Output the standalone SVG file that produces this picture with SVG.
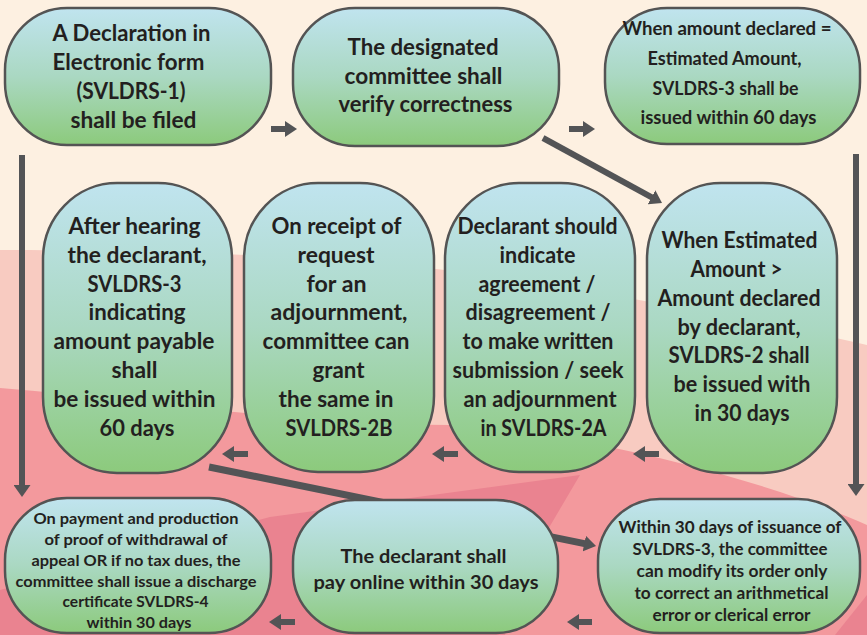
<svg xmlns="http://www.w3.org/2000/svg" width="867" height="635" viewBox="0 0 867 635">
<defs>
<linearGradient id="ng" x1="0" y1="0" x2="0" y2="1">
<stop offset="0" stop-color="#C0E4EF"/>
<stop offset="0.5" stop-color="#AAD8C2"/>
<stop offset="1" stop-color="#8CCA7C"/>
</linearGradient>
<marker id="ah" markerUnits="userSpaceOnUse" markerWidth="12" markerHeight="16" refX="4" refY="8" orient="auto" viewBox="0 0 12 16">
<path d="M0,0 L12,8 L0,16 z" fill="#535456"/>
</marker>
<marker id="ahv" markerUnits="userSpaceOnUse" markerWidth="12" markerHeight="17" refX="4" refY="8.5" orient="auto" viewBox="0 0 12 17">
<path d="M0,0 L12,8.5 L0,17 z" fill="#535456"/>
</marker>
</defs>
<style>
.node{fill:url(#ng);stroke:#545454;stroke-width:2.5}
.t{font-family:Lato,"Liberation Sans",sans-serif;font-weight:bold;fill:#231F20;text-anchor:middle}
.f24{font-size:22px}
.f21{font-size:19.4px}
.f20{font-size:18.4px}
.f18{font-size:17px}
.f17{font-size:16px}
.c{stroke:#535456;stroke-width:6;fill:none;marker-end:url(#ah)}
</style>
<g id="background">
<rect x="0" y="0" width="867" height="635" fill="#FDF0E1"/>
<path d="M0,250 C150,250 350,255 480,275 C600,292 760,320 867,345 L867,635 L0,635 Z" fill="#F8CBC1"/>
<path d="M0,388 C150,400 300,425 450,425 C520,428 560,440 600,445 C700,465 800,495 867,525 L867,635 L0,635 Z" fill="#F3999D"/>
<path d="M0,590 L270,517 L580,475 L530,560 L505,635 L0,635 Z" fill="#EA8390"/>
<path d="M835,635 L867,595 L867,635 Z" fill="#EA8390"/>
</g>
<g id="connectors">
<line class="c" x1="271" y1="129" x2="289" y2="129"/>
<line class="c" x1="569" y1="129" x2="587" y2="129"/>
<line class="c" x1="543" y1="138" x2="655" y2="199.2"/>
<line class="c" x1="22" y1="155" x2="22" y2="489" style="marker-end:url(#ahv)"/>
<line class="c" x1="856" y1="154" x2="856" y2="488" style="marker-end:url(#ahv)"/>
<line class="c" x1="659" y1="454" x2="641" y2="454"/>
<line class="c" x1="458" y1="454" x2="440" y2="454"/>
<line class="c" x1="248" y1="454" x2="230" y2="454"/>
<line class="c" x1="209" y1="467" x2="588.2" y2="544.4" style="stroke-width:7"/>
<line class="c" x1="592" y1="622" x2="575" y2="622"/>
<line class="c" x1="295" y1="622" x2="277" y2="622"/>
</g>
<g id="n1">
<rect class="node" x="5" y="8" width="266" height="137" rx="62" ry="62"/>
<text class="t f24" x="131.5" y="41" textLength="158" lengthAdjust="spacingAndGlyphs">A Declaration in</text>
<text class="t f24" x="128.5" y="70" textLength="152" lengthAdjust="spacingAndGlyphs">Electronic form</text>
<text class="t f24" x="131" y="99" textLength="109" lengthAdjust="spacingAndGlyphs">(SVLDRS-1)</text>
<text class="t f24" x="133.5" y="128" textLength="126" lengthAdjust="spacingAndGlyphs">shall be filed</text>
</g>
<g id="n2">
<rect class="node" x="293" y="8" width="266" height="138" rx="62" ry="62"/>
<text class="t f24" x="423" y="55" textLength="151" lengthAdjust="spacingAndGlyphs">The designated</text>
<text class="t f24" x="423.5" y="84" textLength="158" lengthAdjust="spacingAndGlyphs">committee shall</text>
<text class="t f24" x="425.5" y="112" textLength="174" lengthAdjust="spacingAndGlyphs">verify correctness</text>
</g>
<g id="n3">
<rect class="node" x="605" y="8" width="255" height="136" rx="62" ry="62"/>
<text class="t f20" x="727" y="35" textLength="209" lengthAdjust="spacingAndGlyphs">When amount declared =</text>
<text class="t f20" x="724.5" y="65" textLength="154" lengthAdjust="spacingAndGlyphs">Estimated Amount,</text>
<text class="t f20" x="725.5" y="95" textLength="146" lengthAdjust="spacingAndGlyphs">SVLDRS-3 shall be</text>
<text class="t f20" x="728.5" y="124" textLength="176" lengthAdjust="spacingAndGlyphs">issued within 60 days</text>
</g>
<g id="n4">
<rect class="node" x="647" y="183" width="190" height="290" rx="74" ry="76"/>
<text class="t f24" x="739.5" y="248" textLength="156" lengthAdjust="spacingAndGlyphs">When Estimated</text>
<text class="t f24" x="736.5" y="277" textLength="92" lengthAdjust="spacingAndGlyphs">Amount &gt;</text>
<text class="t f24" x="739" y="305.5" textLength="163" lengthAdjust="spacingAndGlyphs">Amount declared</text>
<text class="t f24" x="739" y="334.5" textLength="123" lengthAdjust="spacingAndGlyphs">by declarant,</text>
<text class="t f24" x="739" y="363" textLength="141" lengthAdjust="spacingAndGlyphs">SVLDRS-2 shall</text>
<text class="t f24" x="742" y="392" textLength="137" lengthAdjust="spacingAndGlyphs">be issued with</text>
<text class="t f24" x="742" y="420.5" textLength="95" lengthAdjust="spacingAndGlyphs">in 30 days</text>
</g>
<g id="n5">
<rect class="node" x="445" y="183" width="190" height="289" rx="74" ry="76"/>
<text class="t f24" x="537.5" y="234" textLength="160" lengthAdjust="spacingAndGlyphs">Declarant should</text>
<text class="t f24" x="537.5" y="263" textLength="76" lengthAdjust="spacingAndGlyphs">indicate</text>
<text class="t f24" x="537" y="291.5" textLength="117" lengthAdjust="spacingAndGlyphs">agreement /</text>
<text class="t f24" x="538" y="320" textLength="145" lengthAdjust="spacingAndGlyphs">disagreement /</text>
<text class="t f24" x="538" y="349" textLength="151" lengthAdjust="spacingAndGlyphs">to make written</text>
<text class="t f24" x="538" y="378" textLength="171" lengthAdjust="spacingAndGlyphs">submission / seek</text>
<text class="t f24" x="540" y="406.5" textLength="153" lengthAdjust="spacingAndGlyphs">an adjournment</text>
<text class="t f24" x="543.5" y="435.5" textLength="126" lengthAdjust="spacingAndGlyphs">in SVLDRS-2A</text>
</g>
<g id="n6">
<rect class="node" x="244" y="183" width="190" height="289" rx="74" ry="76"/>
<text class="t f24" x="336.5" y="234" textLength="130" lengthAdjust="spacingAndGlyphs">On receipt of</text>
<text class="t f24" x="336" y="263" textLength="77" lengthAdjust="spacingAndGlyphs">request</text>
<text class="t f24" x="336.5" y="291.5" textLength="60" lengthAdjust="spacingAndGlyphs">for an</text>
<text class="t f24" x="339" y="320" textLength="137" lengthAdjust="spacingAndGlyphs">adjournment,</text>
<text class="t f24" x="336" y="349" textLength="147" lengthAdjust="spacingAndGlyphs">committee can</text>
<text class="t f24" x="338.5" y="378" textLength="52" lengthAdjust="spacingAndGlyphs">grant</text>
<text class="t f24" x="336" y="406.5" textLength="115" lengthAdjust="spacingAndGlyphs">the same in</text>
<text class="t f24" x="339" y="435.5" textLength="107" lengthAdjust="spacingAndGlyphs">SVLDRS-2B</text>
</g>
<g id="n7">
<rect class="node" x="43" y="183" width="189" height="290" rx="74" ry="76"/>
<text class="t f24" x="134.5" y="234" textLength="132" lengthAdjust="spacingAndGlyphs">After hearing</text>
<text class="t f24" x="137" y="263" textLength="139" lengthAdjust="spacingAndGlyphs">the declarant,</text>
<text class="t f24" x="134.5" y="291.5" textLength="94" lengthAdjust="spacingAndGlyphs">SVLDRS-3</text>
<text class="t f24" x="137" y="320" textLength="97" lengthAdjust="spacingAndGlyphs">indicating</text>
<text class="t f24" x="134" y="349" textLength="161" lengthAdjust="spacingAndGlyphs">amount payable</text>
<text class="t f24" x="134.5" y="378" textLength="46" lengthAdjust="spacingAndGlyphs">shall</text>
<text class="t f24" x="134.5" y="406.5" textLength="162" lengthAdjust="spacingAndGlyphs">be issued within</text>
<text class="t f24" x="137" y="435.5" textLength="75" lengthAdjust="spacingAndGlyphs">60 days</text>
</g>
<g id="n8">
<rect class="node" x="598" y="499" width="262" height="134" rx="62" ry="62"/>
<text class="t f18" x="730" y="533" textLength="223" lengthAdjust="spacingAndGlyphs">Within 30 days of issuance of</text>
<text class="t f18" x="730" y="555" textLength="195" lengthAdjust="spacingAndGlyphs">SVLDRS-3, the committee</text>
<text class="t f18" x="732" y="577" textLength="191" lengthAdjust="spacingAndGlyphs">can modify its order only</text>
<text class="t f18" x="731.5" y="599" textLength="194" lengthAdjust="spacingAndGlyphs">to correct an arithmetical</text>
<text class="t f18" x="731.5" y="621" textLength="158" lengthAdjust="spacingAndGlyphs">error or clerical error</text>
</g>
<g id="n9">
<rect class="node" x="293" y="500" width="265" height="133" rx="62" ry="62"/>
<text class="t f21" x="423.5" y="563" textLength="166" lengthAdjust="spacingAndGlyphs">The declarant shall</text>
<text class="t f21" x="426" y="589" textLength="225" lengthAdjust="spacingAndGlyphs">pay online within 30 days</text>
</g>
<g id="n10">
<rect class="node" x="5" y="498" width="266" height="135" rx="62" ry="62"/>
<text class="t f17" x="136" y="524" textLength="205" lengthAdjust="spacingAndGlyphs">On payment and production</text>
<text class="t f17" x="136" y="545" textLength="183" lengthAdjust="spacingAndGlyphs">of proof of withdrawal of</text>
<text class="t f17" x="136" y="566" textLength="209" lengthAdjust="spacingAndGlyphs">appeal OR if no tax dues, the</text>
<text class="t f17" x="136" y="586.5" textLength="241" lengthAdjust="spacingAndGlyphs">committee shall issue a discharge</text>
<text class="t f17" x="135.5" y="607" textLength="146" lengthAdjust="spacingAndGlyphs">certificate SVLDRS-4</text>
<text class="t f17" x="139" y="627.5" textLength="105" lengthAdjust="spacingAndGlyphs">within 30 days</text>
</g>
</svg>
